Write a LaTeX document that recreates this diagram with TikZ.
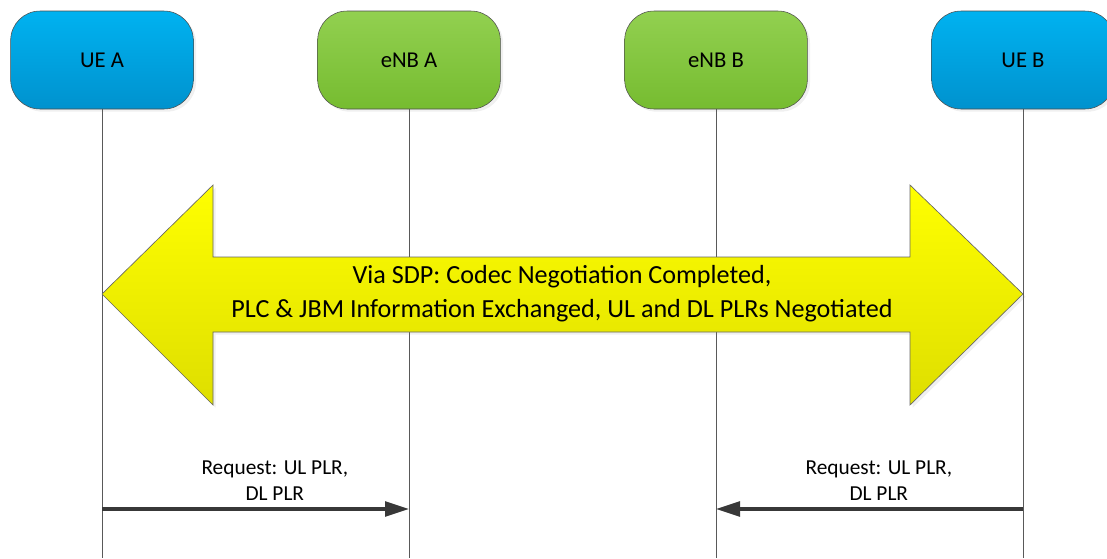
\documentclass[tikz,border=0pt]{standalone}
\usepackage{fontspec}
\setmainfont{Carlito}
\usetikzlibrary{arrows.meta, positioning, shadows}

\definecolor{uetop}{RGB}{0,178,240}
\definecolor{uebot}{RGB}{0,146,206}
\definecolor{enbtop}{RGB}{146,208,80}
\definecolor{enbbot}{RGB}{118,188,48}
\definecolor{sdptop}{RGB}{255,255,0}
\definecolor{sdpbot}{RGB}{222,222,0}

\begin{document}
\begin{tikzpicture}[
    x=0.75pt, y=-0.75pt,        % pixel grid, origin top left
    party/.style={draw=black!70, rounded corners=22pt, minimum width=137pt, minimum height=73.5pt,
      font=\fontsize{17}{19}\selectfont, drop shadow={opacity=0.12, shadow xshift=2pt, shadow yshift=-2pt}},
    ue/.style={party, top color=uetop, bottom color=uebot},
    enb/.style={party, top color=enbtop, bottom color=enbbot},
    life/.style={draw=black!65, line width=0.75pt},
    banner/.style={draw=black!60, line width=0.5pt, top color=sdptop, bottom color=sdpbot},
    msg/.style={-{Triangle[length=18pt,width=11pt]}, line width=2.6pt, draw=black!78},
    msglabel/.style={font=\fontsize{16}{19.5}\selectfont, align=center, yshift=2pt}
  ]
  \useasboundingbox (0,0) rectangle (1107,558);

  % Teilnehmer
  \node[ue]  (uea)  at (102,60)  {UE A};
  \node[enb] (enba) at (409,60)  {eNB A};
  \node[enb] (enbb) at (716,60)  {eNB B};
  \node[ue]  (ueb)  at (1023,60) {UE B};

  % Lebenslinien
  \coordinate (bottom) at (0,558);
  \draw[life] (uea)  -- (uea  |- bottom);
  \draw[life] (enba) -- (enba |- bottom);
  \draw[life] (enbb) -- (enbb |- bottom);
  \draw[life] (ueb)  -- (ueb  |- bottom);

  % Doppelpfeil SDP
  \coordinate (mid) at (562,294);
  \draw[banner, drop shadow={opacity=0.12, shadow xshift=2pt, shadow yshift=-2pt}]
    (uea |- mid) -- (213,185) -- (213,257) -- (910,257) -- (910,185)
    -- (ueb |- mid) -- (910,405) -- (910,332) -- (213,332) -- (213,405) -- cycle;
  \node[font=\fontsize{19.6}{25.5}\selectfont, align=center] (sdp) at (mid)
    {Via SDP: Codec Negotiation Completed,\\PLC \& JBM Information Exchanged, UL and DL PLRs Negotiated};

  % Requests
  \coordinate (req) at (0,509);
  \draw[msg] (uea |- req) -- node[msglabel, above, xshift=14.5pt] {Request: UL PLR,\\DL PLR} (enba |- req);
  \draw[msg] (ueb |- req) -- node[msglabel, above, xshift=7pt] {Request: UL PLR,\\DL PLR} (enbb |- req);

\end{tikzpicture}
\end{document}
